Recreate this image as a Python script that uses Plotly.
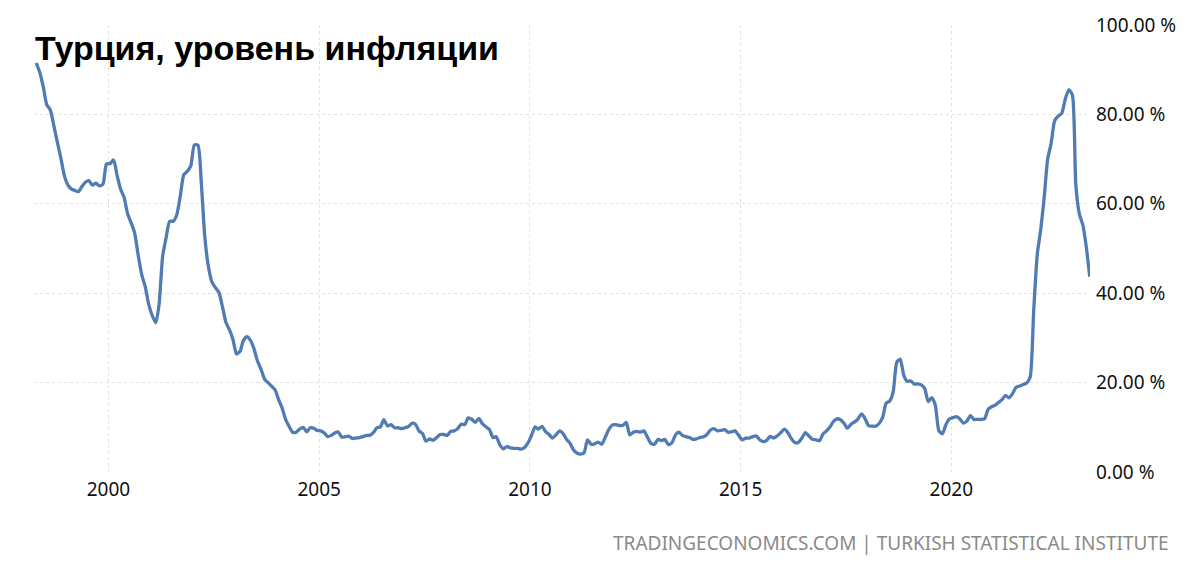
import pandas as pd
import plotly.graph_objects as go

# Monthly annual inflation rate, Turkey (%), April 1998 .. April 2023
values_1998 = [91.5, 89.5, 86.2, 82.2, 81.0, 77.5, 73.8, 70.2, 66.3]  # Apr-Dec
values_1999 = [64.2, 63.3, 63.0, 62.7, 63.8, 64.8, 65.2, 64.2, 64.6, 64.0, 64.4, 68.9]
values_2000 = [69.0, 69.8, 66.5, 63.3, 61.5, 57.8, 55.8, 53.5, 48.5, 44.2, 41.5, 37.5]
values_2001 = [35.0, 33.4, 37.5, 48.3, 52.4, 56.1, 56.1, 57.5, 61.8, 66.5, 67.3, 68.5]
values_2002 = [73.2, 73.1, 65.1, 52.7, 46.2, 42.6, 41.3, 40.2, 37.0, 33.5, 31.8, 29.7]
values_2003 = [26.4, 27.0, 29.4, 30.3, 29.5, 27.6, 24.9, 23.0, 20.8, 20.0, 19.2, 18.4]
values_2004 = [16.2, 14.3, 11.8, 10.2, 8.9, 8.9, 9.6, 10.0, 9.0, 9.9, 9.8, 9.3]
values_2005 = [9.2, 8.7, 7.9, 8.2, 8.7, 8.95, 7.8, 7.9, 8.0, 7.5, 7.6, 7.7]
values_2006 = [7.9, 8.2, 8.2, 8.8, 9.9, 10.1, 11.7, 10.3, 10.6, 9.9, 9.9, 9.7]
values_2007 = [9.9, 10.2, 10.9, 10.7, 9.2, 8.6, 6.9, 7.4, 7.1, 7.7, 8.4, 8.4]
values_2008 = [8.2, 9.1, 9.2, 9.7, 10.7, 10.6, 12.1, 11.8, 11.1, 12.0, 10.8, 10.1]
values_2009 = [9.5, 7.7, 7.9, 6.1, 5.2, 5.7, 5.4, 5.3, 5.3, 5.1, 5.5, 6.5]
values_2010 = [8.2, 10.1, 9.6, 10.2, 9.1, 8.4, 7.6, 8.3, 9.2, 8.6, 7.3, 6.4]
values_2011 = [4.9, 4.2, 4.0, 4.3, 7.2, 6.2, 6.3, 6.7, 6.2, 7.7, 9.5, 10.5]
values_2012 = [10.6, 10.4, 10.4, 11.1, 8.3, 8.9, 9.1, 8.9, 9.2, 7.8, 6.4, 6.2]
values_2013 = [7.3, 7.0, 7.3, 6.1, 6.5, 8.3, 8.9, 8.2, 7.9, 7.7, 7.3, 7.4]
values_2014 = [7.75, 7.9, 8.4, 9.4, 9.7, 9.2, 9.3, 9.5, 8.9, 9.0, 9.2, 8.2]
values_2015 = [7.2, 7.6, 7.6, 7.9, 8.1, 7.2, 6.8, 7.1, 7.95, 7.6, 8.1, 8.8]
values_2016 = [9.6, 8.8, 7.5, 6.6, 6.6, 7.6, 8.8, 8.05, 7.3, 7.2, 7.0, 8.5]
values_2017 = [9.2, 10.1, 11.3, 11.9, 11.7, 10.9, 9.8, 10.7, 11.2, 11.9, 13.0, 11.9]
values_2018 = [10.35, 10.26, 10.23, 10.85, 12.15, 15.39, 15.85, 17.9, 24.52, 25.24, 21.62, 20.3]
values_2019 = [20.35, 19.67, 19.71, 19.5, 18.71, 15.72, 16.65, 15.01, 9.26, 8.55, 10.56, 11.84]
values_2020 = [12.15, 12.37, 11.86, 10.94, 11.39, 12.62, 11.76, 11.77, 11.75, 11.89, 14.03, 14.6]
values_2021 = [14.97, 15.61, 16.19, 17.14, 16.59, 17.53, 18.95, 19.25, 19.58, 19.89, 21.31, 36.08]
values_2022 = [48.69, 54.44, 61.14, 69.97, 73.5, 78.62, 79.6, 80.21, 83.45, 85.51, 84.39, 64.27]
values_2023 = [57.68, 55.18, 50.51, 43.68]  # Jan-Apr

values = (values_1998 + values_1999 + values_2000 + values_2001 + values_2002
          + values_2003 + values_2004 + values_2005 + values_2006 + values_2007
          + values_2008 + values_2009 + values_2010 + values_2011 + values_2012
          + values_2013 + values_2014 + values_2015 + values_2016 + values_2017
          + values_2018 + values_2019 + values_2020 + values_2021 + values_2022
          + values_2023)

start_month = "1998-04-01"
dates = pd.date_range(start_month, periods=len(values), freq="MS") + pd.Timedelta(days=14)

y_ticks = [0, 20, 40, 60, 80, 100]
y_tick_labels = [f"{v:.2f} %" for v in y_ticks]
title_text = "Турция, уровень инфляции"
source_text = "TRADINGECONOMICS.COM | TURKISH STATISTICAL INSTITUTE"

fig = go.Figure()
fig.add_trace(go.Scatter(
    x=dates, y=values, mode="lines",
    line=dict(color="#517bb3", width=3.3, shape="spline", smoothing=0.6),
    hoverinfo="skip", showlegend=False,
))

fig.update_layout(
    width=1200, height=566,
    margin=dict(l=26, r=118, t=17, b=102),
    paper_bgcolor="white", plot_bgcolor="white",
    font=dict(family="Noto Sans", size=19, color="#111111"),
    xaxis=dict(
        type="date", automargin=False,
        range=["1998-03-27", "2023-04-17"],
        tick0="2000-01-01", dtick="M60", tickformat="%Y",
        showgrid=True, gridcolor="#e2e2e2", griddash="dot", gridwidth=1,
        zeroline=False, showline=False, ticks="",
        tickfont=dict(family="Noto Sans", size=19, color="#111111"),
        ticklabelstandoff=4,
    ),
    yaxis=dict(
        side="right", automargin=False,
        range=[0, 100], tickvals=y_ticks, ticktext=y_tick_labels,
        showgrid=True, gridcolor="#e2e2e2", griddash="dot", gridwidth=1,
        zeroline=False, showline=False, ticks="",
        tickfont=dict(family="Noto Sans", size=19, color="#111111"),
        ticklabelstandoff=5,
    ),
    annotations=[
        dict(text="<b>" + title_text + "</b>", xref="paper", yref="paper",
             x=-0.001, y=0.948, xanchor="left", yanchor="middle", showarrow=False,
             font=dict(family="Liberation Sans", size=34, color="#000000")),
        dict(text=source_text, xref="paper", yref="paper",
             x=1.077, y=-0.158, xanchor="right", yanchor="middle", showarrow=False,
             font=dict(family="Noto Sans", size=19, color="#8a8a8a")),
    ],
)

fig.write_html("out.html")
